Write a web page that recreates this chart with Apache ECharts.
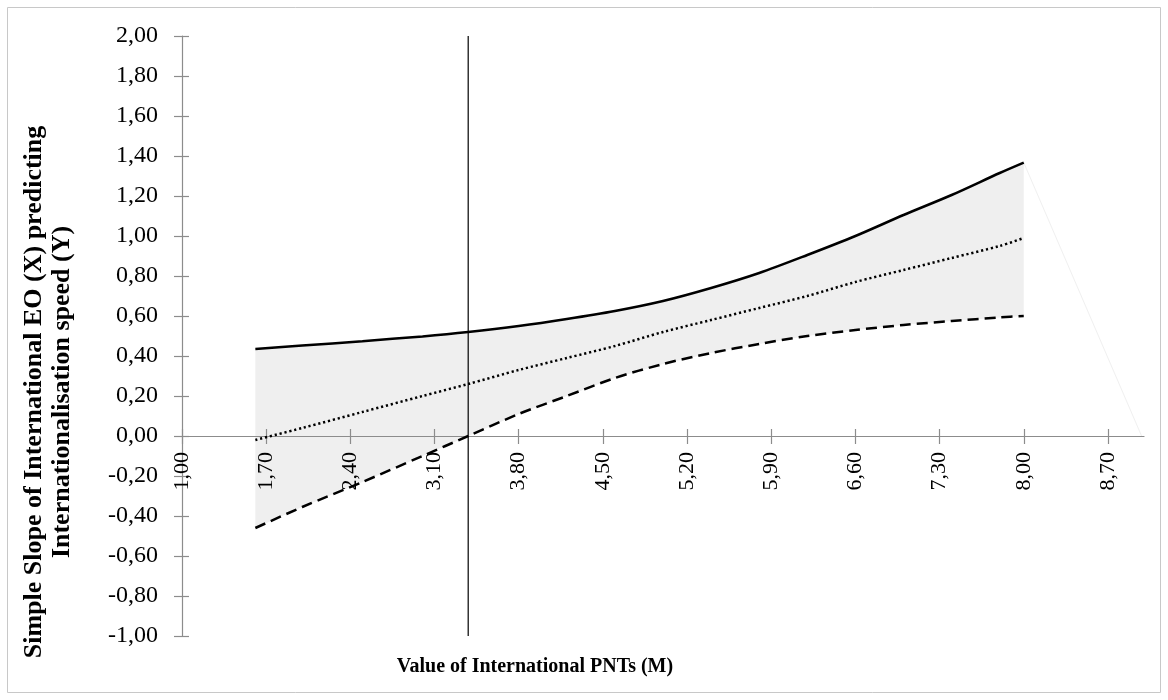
<!DOCTYPE html>
<html>
<head>
<meta charset="utf-8">
<script src="https://cdn.jsdelivr.net/npm/echarts@6/dist/echarts.min.js"></script>
<style>html,body{margin:0;padding:0;background:#fff;}#c{width:1168px;height:700px;}</style>
</head>
<body>
<div id="c"></div>
<script>
// ---- data ----
const xValues   = [1.61, 2.0, 2.5, 3.0, 3.38, 3.8, 4.2, 4.6, 5.0, 5.4, 5.8, 6.2, 6.6, 7.0, 7.4, 7.8, 8.0];
const upperCI   = [0.435, 0.452, 0.474, 0.498, 0.52, 0.55, 0.585, 0.625, 0.675, 0.74, 0.815, 0.905, 1.0, 1.105, 1.205, 1.315, 1.367];
const slopeMid  = [-0.02, 0.04, 0.12, 0.20, 0.26, 0.33, 0.39, 0.45, 0.52, 0.58, 0.64, 0.70, 0.77, 0.83, 0.89, 0.95, 0.99];
const lowerCI   = [-0.46, -0.355, -0.23, -0.10, 0.0, 0.11, 0.2, 0.29, 0.36, 0.415, 0.46, 0.5, 0.53, 0.555, 0.575, 0.593, 0.60];
const jnPoint   = 3.38;                        // vertical Johnson-Neyman line
const faintEdge = [[8.0, 1.367], [8.98, 0.0]]; // faint artefact line at the right
const xTicks    = [1.0, 1.7, 2.4, 3.1, 3.8, 4.5, 5.2, 5.9, 6.6, 7.3, 8.0, 8.7];
const yMin = -1, yMax = 2, yStep = 0.2;
const xMin = 1, xMax = 9;
const xAxisCross = 0; // x axis crosses y at 0
const xTitle = 'Value of International PNTs (M)';
const yTitle = 'Simple Slope of International EO (X) predicting\nInternationalisation speed (Y)';

const pairs = arr => xValues.map((x, i) => [x, arr[i]]);
const fmt = v => Number(v).toFixed(2).replace('.', ',');
const FONT = '"Liberation Serif", "Times New Roman", serif';
const AXC = '#8c8c8c';

const GRID = { left: 182, right: 24, top: 36, bottom: 64 };
const plotH = 700 - GRID.top - GRID.bottom;
const xAxisOffset = -plotH * (xAxisCross - yMin) / (yMax - yMin);

const chart = echarts.init(document.getElementById('c'));
chart.setOption({
  animation: false,
  backgroundColor: '#fff',
  grid: Object.assign({ containLabel: false }, GRID),
  xAxis: [
    {
      type: 'value', min: xMin, max: xMax, position: 'bottom', offset: xAxisOffset, z: 3,
      axisLine: { show: true, onZero: false, lineStyle: { color: AXC, width: 1.2 } },
      axisTick: { show: true, inside: false, length: 8, customValues: xTicks, lineStyle: { color: AXC, width: 1.2 } },
      axisLabel: { show: true, rotate: 90, margin: 16, customValues: xTicks, formatter: fmt,
                   fontFamily: FONT, fontSize: 22, color: '#000' },
      splitLine: { show: false }
    },
    {
      type: 'value', min: xMin, max: xMax, position: 'bottom', offset: xAxisOffset, z: 3,
      axisLine: { show: false, onZero: false },
      axisTick: { show: true, inside: true, length: 7, customValues: xTicks, lineStyle: { color: AXC, width: 1.2 } },
      axisLabel: { show: false },
      splitLine: { show: false }
    }
  ],
  yAxis: [
    {
      type: 'value', min: yMin, max: yMax, interval: yStep, position: 'left', z: 3,
      axisLine: { show: true, onZero: false, lineStyle: { color: AXC, width: 1.2 } },
      axisTick: { show: true, inside: false, length: 8, lineStyle: { color: AXC, width: 1.2 } },
      axisLabel: { show: true, margin: 24, formatter: fmt, fontFamily: FONT, fontSize: 24, color: '#000' },
      splitLine: { show: false }
    },
    {
      type: 'value', min: yMin, max: yMax, interval: yStep, position: 'left', z: 3,
      axisLine: { show: false, onZero: false },
      axisTick: { show: true, inside: true, length: 7, lineStyle: { color: AXC, width: 1.2 } },
      axisLabel: { show: false },
      splitLine: { show: false }
    }
  ],
  series: [
    { name: 'band', type: 'custom', silent: true, z: 1,
      data: [[xValues[0], lowerCI[0]]],
      renderItem: function (params, api) {
        const pts = [];
        for (let i = 0; i < xValues.length; i++) pts.push(api.coord([xValues[i], upperCI[i]]));
        for (let i = xValues.length - 1; i >= 0; i--) pts.push(api.coord([xValues[i], lowerCI[i]]));
        return { type: 'polygon', shape: { points: pts }, style: { fill: '#efefef', stroke: null } };
      }
    },
    { name: 'faint', type: 'line', data: faintEdge, symbol: 'none', silent: true,
      lineStyle: { color: '#f0f0f0', width: 1 }, z: 2 },
    { name: 'upper', type: 'line', data: pairs(upperCI), symbol: 'none', smooth: 0.3,
      lineStyle: { color: '#000', width: 2.5, type: 'solid' }, z: 5 },
    { name: 'slope', type: 'line', data: pairs(slopeMid), symbol: 'none', smooth: 0.3,
      lineStyle: { color: '#000', width: 2.5, type: [2.2, 2.8] }, z: 5 },
    { name: 'lower', type: 'line', data: pairs(lowerCI), symbol: 'none', smooth: 0.3,
      lineStyle: { color: '#000', width: 2.5, type: [11, 6] }, z: 5 },
    { name: 'jn', type: 'line', data: [[jnPoint, yMin], [jnPoint, yMax]], symbol: 'none',
      lineStyle: { color: '#000', width: 1.2 }, z: 6 }
  ],
  graphic: [
    { type: 'rect', shape: { x: 7.5, y: 7.5, width: 1153, height: 685 },
      style: { fill: 'none', stroke: '#c8c8c8', lineWidth: 1 }, silent: true, z: -1 },
    { type: 'text', x: 48, y: 392, rotation: Math.PI / 2,
      style: { text: yTitle, fontFamily: FONT, fontWeight: 'bold', fontSize: 26, lineHeight: 28,
               align: 'center', verticalAlign: 'middle', fill: '#000' } },
    { type: 'text', x: 535, y: 667,
      style: { text: xTitle, fontFamily: FONT, fontWeight: 'bold', fontSize: 20,
               align: 'center', verticalAlign: 'middle', fill: '#000' } }
  ]
});
</script>
</body>
</html>
